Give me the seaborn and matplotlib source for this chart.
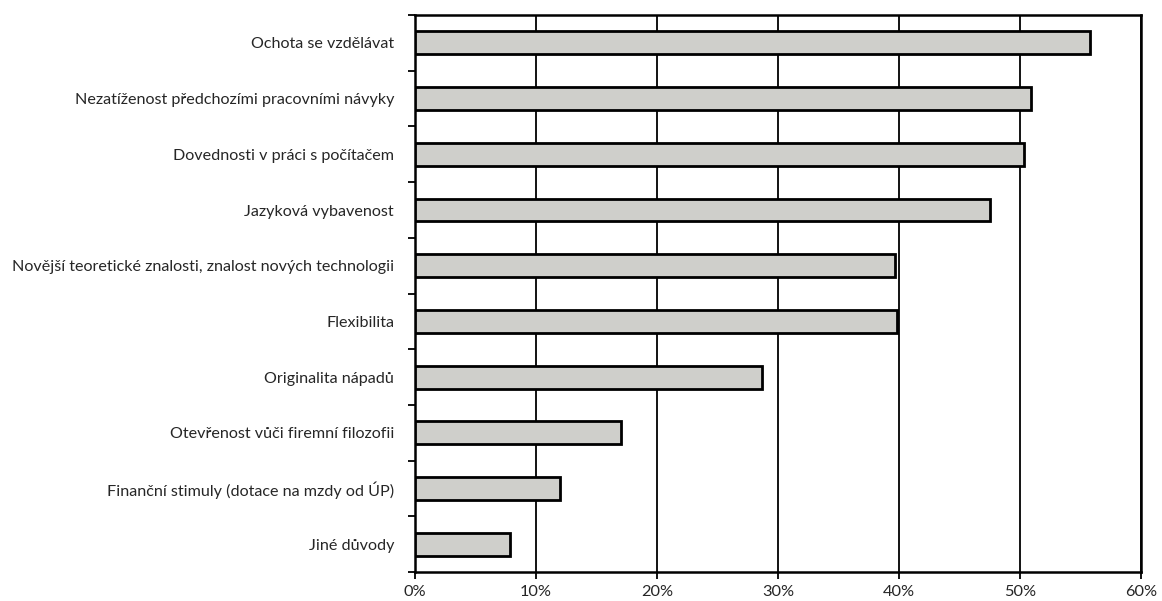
import matplotlib
matplotlib.use("Agg")
import matplotlib.pyplot as plt
from matplotlib.ticker import MultipleLocator, PercentFormatter
import seaborn as sns
import pandas as pd

categories = [
    "Ochota se vzdělávat",
    "Nezatíženost předchozími pracovními návyky",
    "Dovednosti v práci s počítačem",
    "Jazyková vybavenost",
    "Novější teoretické znalosti, znalost nových technologii",
    "Flexibilita",
    "Originalita nápadů",
    "Otevřenost vůči firemní filozofii",
    "Finanční stimuly (dotace na mzdy od ÚP)",
    "Jiné důvody",
]
values = [55.8, 50.9, 50.3, 47.5, 39.7, 39.8, 28.7, 17.0, 12.0, 7.9]

df = pd.DataFrame({"reason": categories, "share": values})

sns.set_style("white")
plt.rcParams["font.family"] = ["Lato", "DejaVu Sans"]

fig = plt.figure(figsize=(11.62, 6.01), dpi=100)
ax = fig.add_axes([0.357, 0.048, 0.625, 0.927])

sns.barplot(
    data=df, x="share", y="reason", orient="h", ax=ax,
    color="#cfcfcb", edgecolor="black", linewidth=2.0,
    width=0.41, saturation=1, zorder=3,
)

ax.set_xlim(0, 60)
ax.set_ylim(len(categories) - 0.5, -0.5)
ax.xaxis.set_major_locator(MultipleLocator(10))
ax.xaxis.set_major_formatter(PercentFormatter(decimals=0))
ax.grid(axis="x", color="black", linewidth=1.3, zorder=0)
ax.grid(axis="y", visible=False)
ax.set_axisbelow(True)

# tick marks sit on the category boundaries, labels on the centres
ax.set_yticks([i - 0.5 for i in range(len(categories) + 1)], minor=False)
ax.set_yticklabels([""] * (len(categories) + 1))
ax.set_yticks(range(len(categories)), minor=True)
ax.set_yticklabels(categories, minor=True, fontsize=11.65)
ax.tick_params(axis="y", which="minor", length=0, pad=15)
ax.tick_params(axis="y", which="major", length=5, width=1.3, color="black", left=True)
ax.tick_params(axis="x", length=5, width=1.3, color="black", bottom=True, labelsize=11.8, pad=4)

for side in ["left", "right", "top", "bottom"]:
    ax.spines[side].set_visible(True)
    ax.spines[side].set_color("black")
    ax.spines[side].set_linewidth(1.8)

ax.set_xlabel("")
ax.set_ylabel("")

fig.savefig("out.png", dpi=100, facecolor="white")
